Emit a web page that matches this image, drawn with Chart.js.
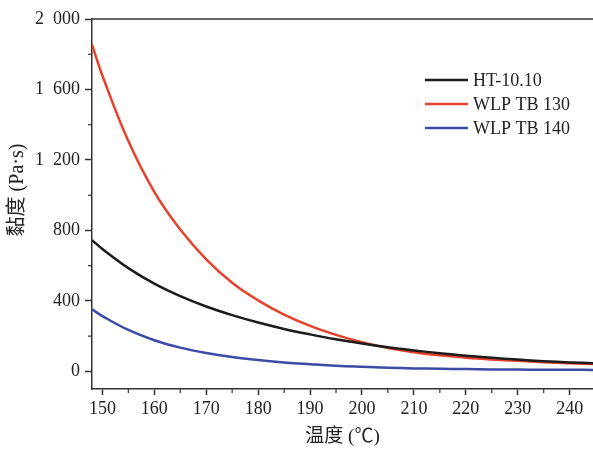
<!DOCTYPE html>
<html>
<head>
<meta charset="utf-8">
<script src="https://cdn.jsdelivr.net/npm/chart.js@4"></script>
<style>
html,body{margin:0;padding:0;background:#fff;}
#wrap{width:593px;height:449px;position:relative;}
</style>
</head>
<body>
<div id="wrap"><canvas id="c" width="593" height="449"></canvas></div>
<script>
// ---- data ----
const temps = [148, 150, 155, 160, 165, 170, 175, 180, 185, 190, 195, 200, 205, 210, 215, 220, 225, 230, 235, 240, 245];
const seriesNames = ['HT-10.10', 'WLP TB 130', 'WLP TB 140'];
const ht1010 = [745, 695, 586, 498, 427, 368, 319, 277, 241, 210, 182, 158, 137, 119, 103, 89, 77, 67, 58, 51, 46];
const wlp130 = [1855, 1679, 1307, 1019, 805, 636, 503, 403, 322, 258, 207, 165, 133, 109, 91, 78, 68, 60, 52, 46, 41];
const wlp140 = [352, 314, 235, 177, 135, 104, 81, 64, 51, 41, 32, 26, 21, 17, 15, 13, 11, 10, 9, 9, 8];
const xTicks = [150, 160, 170, 180, 190, 200, 210, 220, 230, 240];
const xMinorTicks = [155, 165, 175, 185, 195, 205, 215, 225, 235];
const yTicks = [0, 400, 800, 1200, 1600, 2000];
const yTickLabels = ['0', '400', '800', '1\u2002200', '1\u2002600', '2\u2002000'];
const yMinorTicks = [200, 600, 1000, 1400, 1800];
const xTitle = '温度 (℃)';
const yTitle = '黏度 (Pa·s)';

const colors = ['#1c1c1c', '#e8402a', '#3b4ba6'];
const serif = '"Liberation Serif", "Times New Roman", serif';
const cjk = '"Liberation Serif", "Noto Sans CJK SC", serif';

function pts(ys){ return temps.map((t,i)=>({x:t, y:ys[i]})); }

const extras = {
  id: 'extras',
  afterDraw(chart){
    const ctx = chart.ctx, a = chart.chartArea;
    const xs = chart.scales.x, ys = chart.scales.y;
    ctx.save();
    ctx.strokeStyle = '#333'; ctx.lineWidth = 1.5;
    // top border
    ctx.beginPath(); ctx.moveTo(a.left, a.top); ctx.lineTo(a.right, a.top); ctx.stroke();
    // minor ticks
    ctx.lineWidth = 1.2;
    xMinorTicks.forEach(v=>{
      const p = xs.getPixelForValue(v);
      ctx.beginPath(); ctx.moveTo(p, a.bottom); ctx.lineTo(p, a.bottom+4); ctx.stroke();
    });
    yMinorTicks.forEach(v=>{
      const p = ys.getPixelForValue(v);
      ctx.beginPath(); ctx.moveTo(a.left, p); ctx.lineTo(a.left-4, p); ctx.stroke();
    });
    // y title
    ctx.translate(18, 190);
    ctx.rotate(-Math.PI/2);
    ctx.fillStyle = '#222';
    ctx.font = '20px ' + cjk;
    ctx.textAlign = 'center'; ctx.textBaseline = 'middle';
    ctx.fillText(yTitle, 0, 0);
    ctx.restore();
    // legend
    ctx.save();
    ctx.font = '18px ' + serif;
    ctx.textBaseline = 'middle';
    chart.data.datasets.forEach((ds, i)=>{
      const y = 80 + i*24;
      ctx.strokeStyle = ds.borderColor; ctx.lineWidth = 2.5;
      ctx.beginPath(); ctx.moveTo(425, y); ctx.lineTo(468, y); ctx.stroke();
      ctx.fillStyle = '#222';
      ctx.fillText(ds.label, 473, y+1);
    });
    ctx.restore();
  }
};

new Chart(document.getElementById('c'), {
  type: 'line',
  data: {
    datasets: [
      {label: seriesNames[0], data: pts(ht1010), borderColor: colors[0]},
      {label: seriesNames[1], data: pts(wlp130), borderColor: colors[1]},
      {label: seriesNames[2], data: pts(wlp140), borderColor: colors[2]}
    ].map(d=>Object.assign(d,{borderWidth:2.5, pointRadius:0, tension:0.4, fill:false}))
  },
  options: {
    responsive: false,
    animation: false,
    layout: {padding: {top: 19, right: 0, left: 0, bottom: 0}},
    plugins: {legend: {display: false}, tooltip: {enabled: false}},
    scales: {
      x: {
        type: 'linear', min: 148, max: 244.5,
        afterBuildTicks: s => { s.ticks = xTicks.map(v=>({value:v})); },
        afterFit: s => { s.height = 60; },
        border: {display: true, color: '#333', width: 1.5},
        grid: {drawOnChartArea: false, tickLength: 6, tickColor: '#333', tickWidth: 1.5},
        ticks: {color: '#222', font: {family: serif, size: 18}, padding: 3, maxRotation: 0, autoSkip: false},
        title: {display: true, text: xTitle, color: '#222', font: {family: cjk, size: 19}, padding: {top: 0, bottom: 1}}
      },
      y: {
        type: 'linear', min: -100, max: 2000,
        afterBuildTicks: s => { s.ticks = yTicks.map(v=>({value:v})); },
        afterFit: s => { s.width = 92; },
        border: {display: true, color: '#333', width: 1.5},
        grid: {drawOnChartArea: false, tickLength: 7, tickColor: '#333', tickWidth: 1.5},
        ticks: {color: '#222', font: {family: serif, size: 18}, padding: 5, autoSkip: false,
          callback: v => { const i = yTicks.indexOf(v); return i >= 0 ? yTickLabels[i] : ''; }}
      }
    }
  },
  plugins: [extras]
});
</script>
</body>
</html>
